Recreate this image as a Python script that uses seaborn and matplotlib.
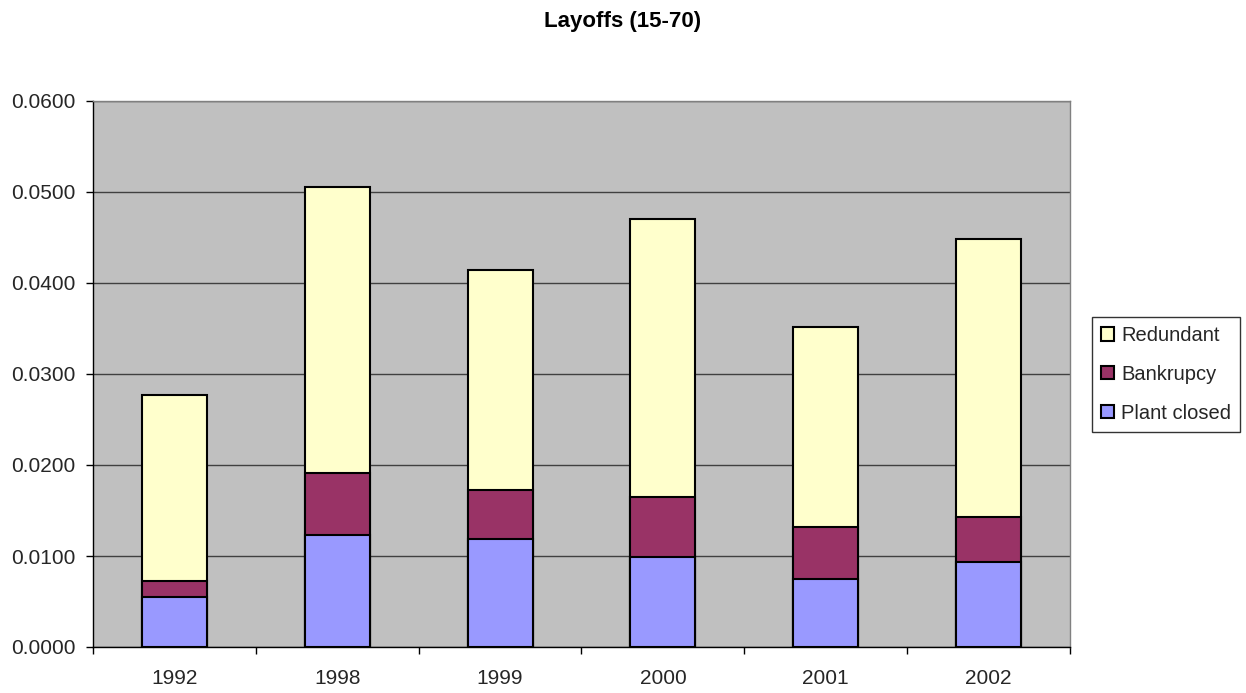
import matplotlib
matplotlib.use("Agg")
import matplotlib.pyplot as plt
from matplotlib.patches import Patch
from matplotlib.ticker import FixedLocator, FormatStrFormatter
import numpy as np
import pandas as pd
import seaborn as sns

# Layoff rates by cause (share of the 15-70 population)
years = ["1992", "1998", "1999", "2000", "2001", "2002"]
plant_closed = [0.0055, 0.0123, 0.0119, 0.0099, 0.0075, 0.0093]
bankrupcy = [0.0018, 0.0068, 0.0053, 0.0066, 0.0057, 0.0050]
redundant = [0.0204, 0.0315, 0.0242, 0.0305, 0.0220, 0.0305]

series_names = ["Plant closed", "Bankrupcy", "Redundant"]
series_colors = ["#9999FF", "#993366", "#FFFFCC"]

sns.set_theme(style="white")
plt.rcParams["font.family"] = ["Liberation Sans", "DejaVu Sans"]

fig = plt.figure(figsize=(12.46, 6.93), dpi=100)
ax = fig.add_axes([93 / 1246, 1 - 647 / 693, (1070 - 93) / 1246, (647 - 101) / 693])
ax.set_facecolor("#C0C0C0")

# Stack the series: draw cumulative totals from the top layer down
layers = np.array([plant_closed, bankrupcy, redundant])
cumulative = np.cumsum(layers, axis=0)
for i in reversed(range(len(series_names))):
    df = pd.DataFrame({"year": years, "value": cumulative[i]})
    sns.barplot(data=df, x="year", y="value", color=series_colors[i],
                saturation=1, width=0.4, edgecolor="black", linewidth=1.5,
                ax=ax, zorder=3)

ax.set_ylim(0, 0.06)
ax.set_xlim(-0.5, len(years) - 0.5)
ax.yaxis.set_major_locator(FixedLocator(np.arange(0, 0.0601, 0.01)))
ax.yaxis.set_major_formatter(FormatStrFormatter("%.4f"))
ax.grid(axis="y", color="#404040", linewidth=1, zorder=0)
ax.set_axisbelow(True)

# Category labels centred, tick marks between categories
ax.set_xticks(range(len(years)))
ax.set_xticklabels(years)
ax.set_xticks(np.arange(-0.5, len(years)), minor=True)
ax.tick_params(axis="x", which="major", length=0, pad=16, labelsize=15)
ax.tick_params(axis="x", which="minor", length=5, width=1, color="black",
               direction="out", bottom=True)
ax.tick_params(axis="y", which="major", length=5, width=1, color="black",
               direction="out", left=True, pad=7.5, labelsize=15)
ax.set_xlabel("")
ax.set_ylabel("")

for side in ("left", "bottom"):
    ax.spines[side].set_color("black")
    ax.spines[side].set_linewidth(1)
for side in ("top", "right"):
    ax.spines[side].set_visible(True)
    ax.spines[side].set_color("#808080")
    ax.spines[side].set_linewidth(1)

fig.text(0.5, 1 - 22 / 693, "Layoffs (15-70)", ha="center", va="center",
         fontsize=16, fontweight="bold", color="black")

handles = [Patch(facecolor=series_colors[i], edgecolor="black", linewidth=1.5,
                 label=series_names[i]) for i in reversed(range(len(series_names)))]
leg = fig.legend(handles=handles, loc="upper left",
                 bbox_to_anchor=(1092 / 1246, 1 - 317 / 693),
                 frameon=True, fancybox=False, fontsize=14.5,
                 handlelength=0.64, handleheight=0.64, handletextpad=0.35,
                 labelspacing=0.98, borderpad=0.45, borderaxespad=0)
leg.get_frame().set_edgecolor("black")
leg.get_frame().set_linewidth(1)

fig.savefig("out.png", dpi=100, facecolor="white")
